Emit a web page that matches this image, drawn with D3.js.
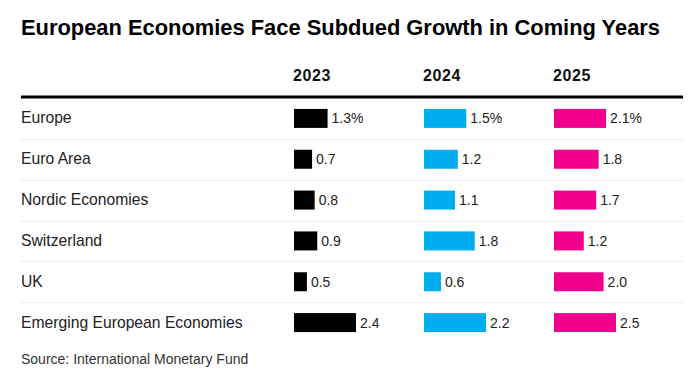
<!DOCTYPE html>
<html>
<head>
<meta charset="utf-8">
<script src="https://cdn.jsdelivr.net/npm/d3@7"></script>
<style>
  body { margin: 0; background: #fff; }
  text { font-family: "Liberation Sans", Arial, sans-serif; }
</style>
</head>
<body>
<div id="chart"></div>
<script>
// chart data
var regions = ["Europe", "Euro Area", "Nordic Economies", "Switzerland", "UK", "Emerging European Economies"];
var years = ["2023", "2024", "2025"];
var values2023 = [1.3, 0.7, 0.8, 0.9, 0.5, 2.4];
var values2024 = [1.5, 1.2, 1.1, 1.8, 0.6, 2.2];
var values2025 = [2.1, 1.8, 1.7, 1.2, 2.0, 2.5];
var yearColors = ["#000000", "#00aeef", "#f0008c"];
var chartTitle = "European Economies Face Subdued Growth in Coming Years";
var sourceText = "Source: International Monetary Fund";

var width = 700, height = 376;
var seriesValues = [values2023, values2024, values2025];

var svg = d3.select("#chart").append("svg")
  .attr("width", width)
  .attr("height", height);

/** Title */
svg.append("text")
  .attr("x", 21)
  .attr("y", 35)
  .attr("textLength", 639)
  .attr("lengthAdjust", "spacingAndGlyphs")
  .style("font-weight", "bold")
  .style("font-size", "22px")
  .attr("fill", "#000")
  .text(chartTitle);

/** Row and column scales */
var y = d3.scaleBand()
  .domain(regions)
  .range([98, 343])
  .paddingInner(0)
  .paddingOuter(0);

var colX = d3.scalePoint()
  .domain(years)
  .range([294, 554]);

/** Column headers */
svg.selectAll("text.year")
  .data(years)
  .enter().append("text")
  .attr("class", "year")
  .attr("x", function(d) { return colX(d) - 1; })
  .attr("y", 81)
  .style("font-weight", "bold")
  .style("font-size", "16px")
  .style("letter-spacing", "0.6px")
  .attr("fill", "#111")
  .text(function(d) { return d; });

/** Top rule */
svg.append("rect")
  .attr("x", 21)
  .attr("y", 95.5)
  .attr("width", 662)
  .attr("height", 3)
  .attr("fill", "#000");

/** Row separators */
svg.selectAll("line.sep")
  .data(regions.slice(1))
  .enter().append("line")
  .attr("class", "sep")
  .attr("x1", 21)
  .attr("x2", 683)
  .attr("y1", function(d) { return Math.round(y(d)) + 0.5; })
  .attr("y2", function(d) { return Math.round(y(d)) + 0.5; })
  .attr("stroke", "#ececec")
  .attr("stroke-width", 1);

/** Row labels */
svg.selectAll("text.region")
  .data(regions)
  .enter().append("text")
  .attr("class", "region")
  .attr("x", 21)
  .attr("y", function(d) { return y(d) + y.bandwidth() / 2 + 5; })
  .style("font-size", "15.7px")
  .attr("fill", "#222")
  .text(function(d) { return d; });

/** Bars per year, each column with its own scale */
years.forEach(function(year, i) {
  var vals = seriesValues[i];
  var w = d3.scaleLinear()
    .domain([0, d3.max(vals)])
    .range([0, 62]);
  var g = svg.append("g").attr("transform", "translate(" + colX(year) + ",0)");
  var rows = regions.map(function(r, j) { return { region: r, value: vals[j], first: j === 0 }; });

  g.selectAll("rect")
    .data(rows)
    .enter().append("rect")
    .attr("x", 0)
    .attr("y", function(d) { return y(d.region) + y.bandwidth() / 2 - 9.5; })
    .attr("width", function(d) { return w(d.value); })
    .attr("height", 19)
    .attr("fill", yearColors[i]);

  g.selectAll("text")
    .data(rows)
    .enter().append("text")
    .attr("x", function(d) { return w(d.value) + 4; })
    .attr("y", function(d) { return y(d.region) + y.bandwidth() / 2 + 5; })
    .style("font-size", "14px")
    .attr("fill", "#222")
    .text(function(d) { return d.value.toFixed(1) + (d.first ? "%" : ""); });
});

/** Source */
svg.append("text")
  .attr("x", 21)
  .attr("y", 364)
  .style("font-size", "14px")
  .attr("fill", "#333")
  .text(sourceText);
</script>
</body>
</html>
